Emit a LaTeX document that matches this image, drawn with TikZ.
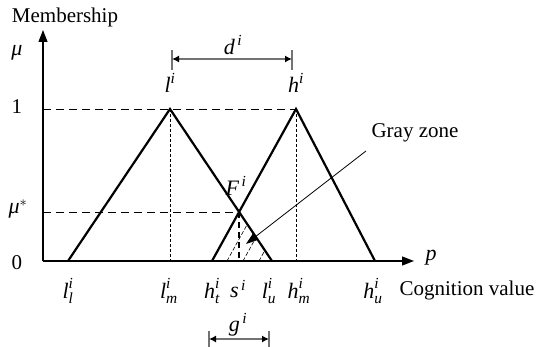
\documentclass[tikz,border=0pt]{standalone}
\usepackage{fontspec}
\usepackage{amsmath}
\setmainfont{Liberation Serif}
\usetikzlibrary{arrows.meta}
\newcommand\ti[1]{\text{\itshape #1}}
\begin{document}
\begin{tikzpicture}[x=1pt,y=-1pt,font=\fontsize{21}{25}\selectfont,
  axis/.style={line width=1.3pt,-{Triangle[length=12pt,width=9pt]}},
  tri/.style={line width=2.2pt},
  guide/.style={line width=0.9pt,dash pattern=on 8pt off 5pt},
  drop/.style={line width=0.7pt,dash pattern=on 3pt off 2pt},
  hatch/.style={line width=0.6pt,dash pattern=on 4pt off 2pt},
  lbl/.style={inner sep=0pt},
  mlbl/.style={inner sep=0pt,font=\fontsize{22}{26}\selectfont},
  spanarrow/.style={draw=black!55,line width=1.3pt,{Latex[length=7pt,width=7pt,black]}-{Latex[length=7pt,width=7pt,black]}},
  spantick/.style={draw=black!55,line width=1.2pt}]
\useasboundingbox (0,0) rectangle (542,347);
% key points
\coordinate (O) at (43,261);
\coordinate (Ytop) at (43,30);
\coordinate (Xend) at (414,261);
\coordinate (Ll) at (68,261);
\coordinate (Lm) at (170,261);
\coordinate (Lpk) at (170,109);
\coordinate (Lu) at (272,261);
\coordinate (Ht) at (212,261);
\coordinate (Hm) at (296,261);
\coordinate (Hpk) at (296,109);
\coordinate (Hu) at (375,261);
\coordinate (F) at (intersection of Lpk--Lu and Ht--Hpk);
\coordinate (S) at (F |- O);
\coordinate (Y1) at (O |- Lpk);
\coordinate (Ymu) at (O |- F);
% guides
\draw[guide] (Y1) -- (Hpk);
\draw[guide] (Ymu) -- (F);
\draw[drop] (Lpk) -- (Lm);
\draw[drop] (Hpk) -- (Hm);
% hatched zone
\begin{scope}
  \clip (Ht) -- (F) -- (Lu) -- cycle;
  \draw[hatch] (227,261) -- ++(42,-76);
  \draw[hatch] (243,261) -- ++(42,-76);
  \draw[hatch] (259,261) -- ++(42,-76);
\end{scope}
\draw[line width=1.3pt,dash pattern=on 6pt off 4pt] (F) -- (S);
% triangles
\draw[tri] (Ll) -- (Lpk) -- (Lu);
\draw[tri] (Ht) -- (Hpk) -- (Hu);
% axes
\draw[axis] (O) -- (Ytop);
\draw[axis] (O) -- (Xend);
% gray zone leader
\node[lbl] (gz) at (415,133) {Gray zone};
\coordinate (gzs) at (366,151);
\coordinate (gzt) at (246,244);
\draw[line width=0.8pt,-{Triangle[length=12pt,width=8pt]}] (gzs) -- (gzt);
% d span
\coordinate (dL) at (172,59);
\coordinate (dR) at (292,59);
\draw[spantick] ([yshift=-11pt]dL) -- ([yshift=9pt]dL);
\draw[spantick] ([yshift=-11pt]dR) -- ([yshift=9pt]dR);
\draw[spanarrow] (dL) -- (dR);
\node[mlbl] (dlab) at (233,45) {$\ti{d}^{\,\ti{i}}$};
% g span
\coordinate (gL) at (209,339);
\coordinate (gR) at (269,339);
\draw[spantick] ([yshift=-10pt]gL) -- ([yshift=8pt]gL);
\draw[spantick] ([yshift=-10pt]gR) -- ([yshift=8pt]gR);
\draw[spanarrow] (gL) -- (gR);
\node[mlbl] (glab) at (238,325) {$\ti{g}^{\,\ti{i}}$};
% axis labels
\node[lbl] (memb) at (65,17) {Membership};
\node[mlbl] (mu) at (17,53) {$\ti{μ}$};
\node[lbl] (one) at (17,107) {1};
\node[mlbl] (mustar) at (18,209) {$\ti{μ}^{*}$};
\node[lbl] (zero) at (17,263) {0};
\node[mlbl] (plab) at (431,258) {$\ti{p}$};
\node[lbl] (cog) at (467,290) {Cognition value};
% point labels
\node[mlbl] (llab) at (170,83) {$\ti{l}^{\ti{i}}$};
\node[mlbl] (hlab) at (296,83) {$\ti{h}^{\ti{i}}$};
\node[mlbl] (Flab) at (236,186) {$\ti{F}^{\,\ti{i}}$};
\node[mlbl] (lllab) at (68,291) {$\ti{l}^{\ti{i}}_{\ti{l}}$};
\node[mlbl] (lmlab) at (169,291) {$\ti{l}^{\ti{i}}_{\ti{m}}$};
\node[mlbl] (htlab) at (212,291) {$\ti{h}^{\ti{i}}_{\ti{t}}$};
\node[mlbl] (slab) at (238,289) {$\ti{s}^{\,\ti{i}}$};
\node[mlbl] (lulab) at (269,291) {$\ti{l}^{\ti{i}}_{\ti{u}}$};
\node[mlbl] (hmlab) at (299,291) {$\ti{h}^{\ti{i}}_{\ti{m}}$};
\node[mlbl] (hulab) at (373,291) {$\ti{h}^{\ti{i}}_{\ti{u}}$};
\end{tikzpicture}
\end{document}
